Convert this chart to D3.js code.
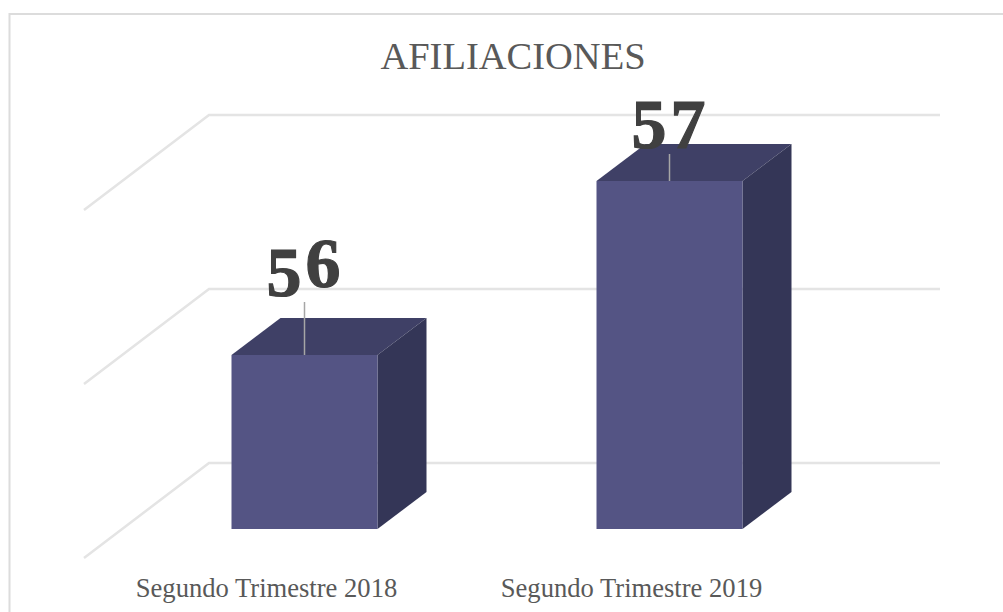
<!DOCTYPE html>
<html>
<head>
<meta charset="utf-8">
<script src="https://cdnjs.cloudflare.com/ajax/libs/d3/7.8.5/d3.min.js"></script>
<style>
  html, body { margin: 0; padding: 0; background: #fff; }
  svg { display: block; }
</style>
</head>
<body>
<div id="my_dataviz"></div>
<script>
var categories = ["Segundo Trimestre 2018", "Segundo Trimestre 2019"];
var values = [56, 57];
var gridTicks = [55, 56, 57];
var chartTitle = "AFILIACIONES";

var Width = 1003, Height = 612;
var serif = "'Liberation Serif', 'DejaVu Serif', serif";

var svg = d3.select("#my_dataviz").append("svg")
  .attr("width", Width)
  .attr("height", Height);

// frame, only the top and left edges are inside the picture
svg.append("path")
  .attr("d", d3.line()([[9.5, Height], [9.5, 14], [Width, 14]]))
  .attr("fill", "none")
  .attr("stroke", "#dcdcdc")
  .attr("stroke-width", 2);

// scales describe the front plane of the bars
var x = d3.scaleBand().domain(categories).range([122, 852]).paddingInner(0.6).paddingOuter(0.3);
var y = d3.scaleLinear().domain([55, 57]).range([529, 181]);

// the 3d offsets
var barDepth = {dx: 49, dy: -37};
var wallBack = -66;
var wallLeft = 209, wallRight = 940;
var wallSide = {dx: -125, dy: 95};

// gridlines on the back and side wall
svg.append("g").selectAll("path")
  .data(gridTicks)
  .enter()
  .append("path")
    .attr("d", function (d) {
      var gy = y(d) + wallBack;
      return d3.line()([[wallLeft + wallSide.dx, gy + wallSide.dy], [wallLeft, gy], [wallRight, gy]]);
    })
    .attr("fill", "none")
    .attr("stroke", "#e4e4e4")
    .attr("stroke-width", 2.5);

var bars = svg.append("g").selectAll("g")
  .data(values)
  .enter()
  .append("g");

function bx(i) { return x(categories[i]); }

// top face
bars.append("path")
  .attr("d", function (d, i) {
    var x0 = bx(i), x1 = x0 + x.bandwidth(), t = y(d);
    return d3.line()([[x0, t], [x0 + barDepth.dx, t + barDepth.dy], [x1 + barDepth.dx, t + barDepth.dy], [x1, t]]) + "Z";
  })
  .attr("fill", "#3f4066");

// side face
bars.append("path")
  .attr("d", function (d, i) {
    var x1 = bx(i) + x.bandwidth(), t = y(d), b = y(55);
    return d3.line()([[x1, t], [x1 + barDepth.dx, t + barDepth.dy], [x1 + barDepth.dx, b + barDepth.dy], [x1, b]]) + "Z";
  })
  .attr("fill", "#343657");

// front face
bars.append("rect")
  .attr("x", function (d, i) { return bx(i); })
  .attr("y", function (d) { return y(d); })
  .attr("width", x.bandwidth())
  .attr("height", function (d) { return y(55) - y(d); })
  .attr("fill", "#545484");

// leader lines
bars.append("line")
  .attr("x1", function (d, i) { return bx(i) + x.bandwidth() / 2; })
  .attr("x2", function (d, i) { return bx(i) + x.bandwidth() / 2; })
  .attr("y1", function (d) { return y(d); })
  .attr("y2", function (d, i) { return y(d) - (i == 0 ? 53 : 27); })
  .attr("stroke", "#a6a6a6")
  .attr("stroke-width", 1.5);

// value labels, the original font has old style digits so the 6 rides higher than the 5
var labels = bars.append("text")
  .attr("x", function (d, i) { return bx(i) + x.bandwidth() / 2 + 1; })
  .attr("y", function (d, i) { return y(d) - (i == 0 ? 59 : 33); })
  .attr("text-anchor", "middle")
  .style("font-family", serif)
  .style("font-weight", "bold")
  .style("font-size", "70px")
  .style("letter-spacing", "4px")
  .style("fill", "#404040")
  .style("stroke", "#404040")
  .style("stroke-width", "1.2px");

labels.selectAll("tspan")
  .data(function (d) { return String(d).split(""); })
  .enter()
  .append("tspan")
    .attr("dy", function (c) { return c == "6" ? -9 : 0; })
    .text(function (c) { return c; });

// category labels
svg.append("g").selectAll("text")
  .data(categories)
  .enter()
  .append("text")
    .attr("x", function (d) { return x(d) + x.bandwidth() / 2 - 38; })
    .attr("y", 597)
    .attr("text-anchor", "middle")
    .style("font-family", serif)
    .style("font-size", "26.6px")
    .style("fill", "#595959")
    .text(function (d) { return d; });

svg.append("text")
  .attr("x", 513)
  .attr("y", 69)
  .attr("text-anchor", "middle")
  .style("font-family", serif)
  .style("font-size", "38.5px")
  .style("fill", "#595959")
  .text(chartTitle);
</script>
</body>
</html>
